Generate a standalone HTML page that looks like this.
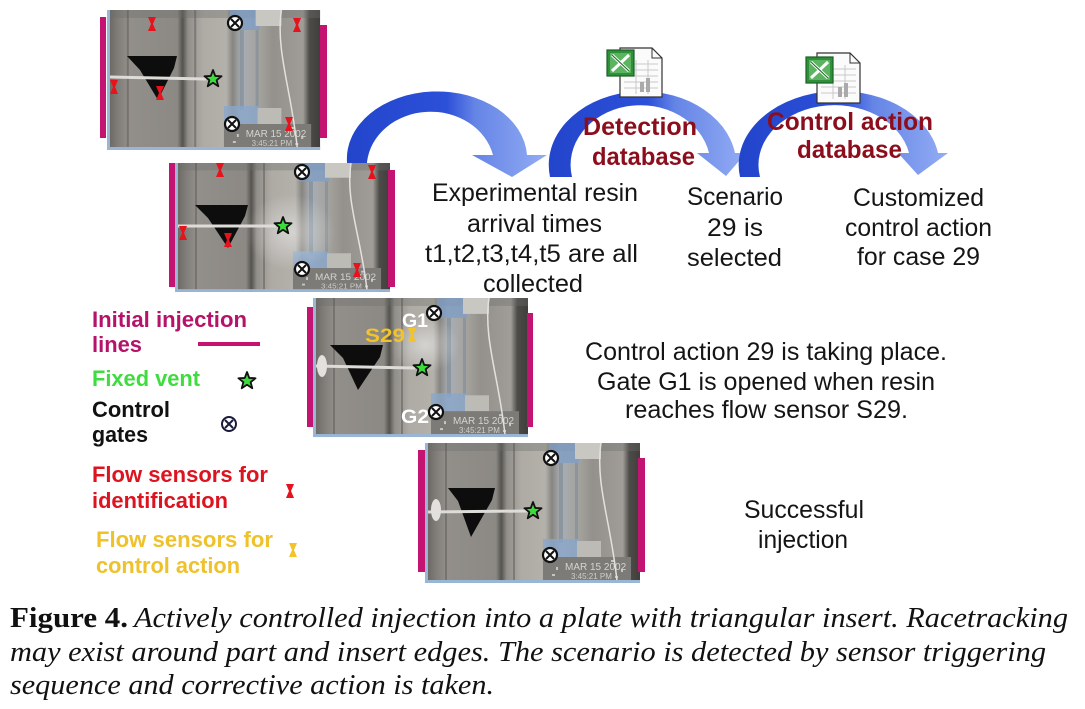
<!DOCTYPE html>
<html><head><meta charset="utf-8">
<style>
html,body{margin:0;padding:0;background:#fff;overflow:hidden;}
svg{display:block}
</style></head><body>
<svg width="1085" height="709" viewBox="0 0 1085 709" xmlns="http://www.w3.org/2000/svg" font-family="'Liberation Sans', Arial, sans-serif">
<defs>
 <linearGradient id="pg" x1="0" y1="0" x2="1" y2="0">
  <stop offset="0" stop-color="#66635f"/>
  <stop offset="0.05" stop-color="#807d78"/>
  <stop offset="0.1" stop-color="#928f8a"/>
  <stop offset="0.33" stop-color="#8c8984"/>
  <stop offset="0.355" stop-color="#55534f"/>
  <stop offset="0.38" stop-color="#918e89"/>
  <stop offset="0.45" stop-color="#aeaba5"/>
  <stop offset="0.56" stop-color="#b4b1ab"/>
  <stop offset="0.59" stop-color="#878580"/>
  <stop offset="0.63" stop-color="#a9aeb3"/>
  <stop offset="0.72" stop-color="#a3a19c"/>
  <stop offset="0.78" stop-color="#94918d"/>
  <stop offset="0.92" stop-color="#a09d98"/>
  <stop offset="0.95" stop-color="#4e4c49"/>
  <stop offset="1" stop-color="#403e3c"/>
 </linearGradient>
 <radialGradient id="glow" cx="0.5" cy="0.5" r="0.5">
  <stop offset="0" stop-color="#ffffff" stop-opacity="0.45"/>
  <stop offset="1" stop-color="#ffffff" stop-opacity="0"/>
 </radialGradient>
 <linearGradient id="a1" gradientUnits="userSpaceOnUse" x1="347" y1="0" x2="547" y2="0">
  <stop offset="0" stop-color="#2245cc"/><stop offset="0.5" stop-color="#2d50d8"/>
  <stop offset="0.64" stop-color="#6585e6"/><stop offset="1" stop-color="#93acf4"/>
 </linearGradient>
 <linearGradient id="a2" gradientUnits="userSpaceOnUse" x1="550" y1="0" x2="746" y2="0">
  <stop offset="0" stop-color="#2245cc"/><stop offset="0.5" stop-color="#2d50d8"/>
  <stop offset="0.64" stop-color="#6585e6"/><stop offset="1" stop-color="#93acf4"/>
 </linearGradient>
 <linearGradient id="a3" gradientUnits="userSpaceOnUse" x1="740" y1="0" x2="948" y2="0">
  <stop offset="0" stop-color="#2245cc"/><stop offset="0.5" stop-color="#2d50d8"/>
  <stop offset="0.64" stop-color="#6585e6"/><stop offset="1" stop-color="#93acf4"/>
 </linearGradient>
 <g id="ph">
  <rect width="215" height="140" fill="url(#pg)"/>
  <rect x="0" y="0" width="215" height="8" fill="#6e6c69" opacity=".35"/>
  <rect x="20" y="0" width="2" height="140" fill="#5a5855" opacity=".5"/>
  <rect x="88" y="0" width="2" height="140" fill="#5a5855" opacity=".5"/>
  <rect x="124" y="0" width="30" height="20" fill="#7f9ec4" opacity=".8"/>
  <rect x="150" y="0" width="26" height="16" fill="#c9c7c2"/>
  <rect x="134" y="20" width="4" height="80" fill="#6e7f90" opacity=".5"/>
  <rect x="150" y="20" width="3" height="80" fill="#6e7f90" opacity=".4"/>
  <rect x="118" y="96" width="36" height="20" fill="#89a6ca" opacity=".8"/>
  <rect x="152" y="98" width="24" height="16" fill="#bdbbb6"/>
  <rect x="118" y="114" width="88" height="24" fill="#7d7b77"/>
  <g fill="#c9c6c1">
   <rect x="122" y="118" width="3" height="2"/><rect x="131" y="124" width="2" height="3"/><rect x="127" y="131" width="3" height="2"/>
   <rect x="186" y="117" width="3" height="2"/><rect x="196" y="126" width="2" height="3"/><rect x="190" y="133" width="3" height="2"/>
  </g>
  <text x="140" y="127" font-size="10" fill="#d6d4cf">MAR 15 2002</text>
  <text x="146" y="136" font-size="8" fill="#cfcdc8">3:45:21 PM</text>
  <path d="M176,0 C170,40 186,80 192,138" stroke="#e3e1dd" stroke-width="1.5" fill="none"/>
  <rect x="0" y="0" width="3" height="140" fill="#9ab6d6"/>
  <rect x="0" y="137" width="215" height="3" fill="#9ab6d6"/>
 </g>
 <g id="gate">
  <circle r="7" fill="#fff" stroke="#111" stroke-width="2.2"/>
  <path d="M-4,-4L4,4M4,-4L-4,4" stroke="#111" stroke-width="2"/>
 </g>
 <polygon id="star" points="0,-9 2.23,-3.07 8.56,-2.78 3.61,1.17 5.29,7.28 0,3.8 -5.29,7.28 -3.61,1.17 -8.56,-2.78 -2.23,-3.07" fill="#3ddc3d" stroke="#111" stroke-width="1.8" stroke-linejoin="round"/>
 <polygon id="sens" points="-4,-7 4,-7 1,0 4,7 -4,7 -1,0" fill="#e8121c"/>
 <polygon id="ysens" points="-4,-7 4,-7 1,0 4,7 -4,7 -1,0" fill="#f2c42a"/>
</defs>

<rect width="1085" height="709" fill="#fff"/>

<!-- Arrows -->
<path d="M347,172 L347,162 A90,67 0 0 1 527,155 L547,155 L512,177 L472,155 L493,155 A64,56 0 0 0 367,162 L367,172 Z" fill="url(#a1)"/>
<path d="M550,177 A93,73 0 0 1 735,153 L746,153 L726,176 L697,153 L709,153 A69,59 0 0 0 572,177 Z" fill="url(#a2)"/>
<path d="M740,177 A99,73 0 0 1 938,153 L948,153 L918,175 L898,153 L909,153 A75,59 0 0 0 760,177 Z" fill="url(#a3)"/>

<!-- Excel icons -->
<g>
 <path d="M620,48 L652,48 L662,58 L662,97 L620,97 Z" fill="#fbfbfb" stroke="#333" stroke-width="1.2"/>
 <path d="M652,48 L652,58 L662,58" fill="none" stroke="#333" stroke-width="1"/>
 <path d="M624,64H658M624,70H658M624,76H658M624,82H658M624,88H658M636,60V94M648,60V94" stroke="#c8c8c8" stroke-width="1"/>
 <rect x="640" y="82" width="4" height="10" fill="#aaa"/><rect x="646" y="78" width="4" height="14" fill="#aaa"/>
 <rect x="607" y="50" width="27" height="26" fill="#2f8f3a" stroke="#1b6224" stroke-width="1.2"/>
 <rect x="610" y="53" width="21" height="20" fill="#5bb45f"/>
 <path d="M612,55 L629,71 M629,55 L612,71" stroke="#fff" stroke-width="3"/>
 <path d="M612,55 L629,71" stroke="#1f6d2a" stroke-width="1.2"/>
</g>
<g>
 <path d="M817,53 L850,53 L860,63 L860,103 L817,103 Z" fill="#fbfbfb" stroke="#333" stroke-width="1.2"/>
 <path d="M850,53 L850,63 L860,63" fill="none" stroke="#333" stroke-width="1"/>
 <path d="M821,69H856M821,75H856M821,81H856M821,87H856M821,93H856M833,65V99M845,65V99" stroke="#c8c8c8" stroke-width="1"/>
 <rect x="838" y="87" width="4" height="10" fill="#aaa"/><rect x="844" y="83" width="4" height="14" fill="#aaa"/>
 <rect x="806" y="57" width="27" height="26" fill="#2f8f3a" stroke="#1b6224" stroke-width="1.2"/>
 <rect x="809" y="60" width="21" height="20" fill="#5bb45f"/>
 <path d="M811,62 L828,78 M828,62 L811,78" stroke="#fff" stroke-width="3"/>
 <path d="M811,62 L828,78" stroke="#1f6d2a" stroke-width="1.2"/>
</g>

<!-- Database labels -->
<g font-weight="bold" font-size="25" fill="#8c0e1c">
 <text x="583" y="135" textLength="114" lengthAdjust="spacingAndGlyphs">Detection</text>
 <text x="592" y="165" textLength="103" lengthAdjust="spacingAndGlyphs">database</text>
 <text x="767" y="130" textLength="166" lengthAdjust="spacingAndGlyphs">Control action</text>
 <text x="797" y="158" textLength="105" lengthAdjust="spacingAndGlyphs">database</text>
</g>

<!-- Photo 1 -->
<use href="#ph" transform="translate(107,10) scale(0.991,1)"/>
<polygon points="127,56 177,56 174,68 158,100 140,70" fill="#0d0d0d"/>
<line x1="110" y1="77" x2="206" y2="79" stroke="#dedcd8" stroke-width="3"/>
<use href="#star" x="213" y="79"/>
<use href="#gate" x="235" y="23"/><use href="#gate" x="232" y="124"/>
<use href="#sens" x="152" y="24"/><use href="#sens" x="297" y="25"/><use href="#sens" x="114" y="87"/><use href="#sens" x="160" y="93"/><use href="#sens" x="289" y="124"/>
<rect x="100" y="17" width="6" height="121" fill="#c21470"/>
<rect x="320" y="25" width="7" height="113" fill="#c21470"/>

<!-- Photo 2 -->
<use href="#ph" transform="translate(175,163) scale(1,0.921)"/>
<ellipse cx="290" cy="232" rx="45" ry="38" fill="url(#glow)"/>
<polygon points="195,205 248,205 245,216 228,248 208,218" fill="#0d0d0d"/>
<line x1="178" y1="226" x2="276" y2="226" stroke="#dedcd8" stroke-width="3"/>
<use href="#star" x="283" y="226"/>
<use href="#gate" x="302" y="172"/><use href="#gate" x="302" y="269"/>
<use href="#sens" x="220" y="170"/><use href="#sens" x="372" y="172"/><use href="#sens" x="183" y="233"/><use href="#sens" x="228" y="240"/><use href="#sens" x="357" y="270"/>
<rect x="169" y="163" width="6" height="124" fill="#c21470"/>
<rect x="388" y="170" width="7" height="117" fill="#c21470"/>

<!-- Photo 3 -->
<use href="#ph" transform="translate(313,298) scale(1,0.993)"/>
<ellipse cx="425" cy="345" rx="35" ry="28" fill="url(#glow)"/>
<polygon points="330,345 383,345 380,357 358,390 343,358" fill="#0d0d0d"/>
<line x1="316" y1="366" x2="415" y2="368" stroke="#dedcd8" stroke-width="3"/>
<ellipse cx="322" cy="366" rx="5" ry="11" fill="#e3e1de"/>
<use href="#star" x="422" y="368"/>
<use href="#gate" x="434" y="313"/><use href="#gate" x="436" y="412"/>
<use href="#ysens" x="412" y="335"/>
<g font-weight="bold" font-size="19">
 <text x="402" y="327" fill="#fff" textLength="26" lengthAdjust="spacingAndGlyphs">G1</text>
 <text x="365" y="342" fill="#f2c42a" textLength="40" lengthAdjust="spacingAndGlyphs">S29</text>
 <text x="401" y="423" fill="#fff" textLength="28" lengthAdjust="spacingAndGlyphs">G2</text>
</g>
<rect x="307" y="307" width="6" height="120" fill="#c21470"/>
<rect x="527" y="313" width="6" height="114" fill="#c21470"/>

<!-- Photo 4 -->
<use href="#ph" transform="translate(425,443)"/>
<polygon points="448,488 495,488 492,500 471,537 458,501" fill="#0d0d0d"/>
<line x1="428" y1="512" x2="527" y2="511" stroke="#dedcd8" stroke-width="3"/>
<ellipse cx="436" cy="510" rx="5" ry="11" fill="#e3e1de"/>
<use href="#star" x="533" y="511"/>
<use href="#gate" x="551" y="458"/><use href="#gate" x="550" y="555"/>
<rect x="418" y="450" width="7" height="122" fill="#c21470"/>
<rect x="638" y="458" width="7" height="114" fill="#c21470"/>

<!-- Step texts -->
<g font-size="25" fill="#151515">
 <text x="432" y="201" textLength="206" lengthAdjust="spacingAndGlyphs">Experimental resin</text>
 <text x="467" y="232" textLength="135" lengthAdjust="spacingAndGlyphs">arrival times</text>
 <text x="425" y="262" textLength="213" lengthAdjust="spacingAndGlyphs">t1,t2,t3,t4,t5 are all</text>
 <text x="483" y="292" textLength="100" lengthAdjust="spacingAndGlyphs">collected</text>

 <text x="687" y="205" textLength="96" lengthAdjust="spacingAndGlyphs">Scenario</text>
 <text x="707" y="236" textLength="56" lengthAdjust="spacingAndGlyphs">29 is</text>
 <text x="687" y="266" textLength="95" lengthAdjust="spacingAndGlyphs">selected</text>

 <text x="853" y="206" textLength="131" lengthAdjust="spacingAndGlyphs">Customized</text>
 <text x="845" y="236" textLength="147" lengthAdjust="spacingAndGlyphs">control action</text>
 <text x="857" y="265" textLength="123" lengthAdjust="spacingAndGlyphs">for case 29</text>

 <text x="585" y="360" textLength="362" lengthAdjust="spacingAndGlyphs">Control action 29 is taking place.</text>
 <text x="597" y="390" textLength="338" lengthAdjust="spacingAndGlyphs">Gate G1 is opened when resin</text>
 <text x="625" y="418" textLength="283" lengthAdjust="spacingAndGlyphs">reaches flow sensor S29.</text>

 <text x="744" y="518" textLength="120" lengthAdjust="spacingAndGlyphs">Successful</text>
 <text x="758" y="548" textLength="90" lengthAdjust="spacingAndGlyphs">injection</text>
</g>

<!-- Legend -->
<g font-weight="bold" font-size="22">
 <text x="92" y="327" fill="#b5136a" textLength="155" lengthAdjust="spacingAndGlyphs">Initial injection</text>
 <text x="92" y="352" fill="#b5136a" textLength="50" lengthAdjust="spacingAndGlyphs">lines</text>
 <text x="92" y="386" fill="#3fdc3f" textLength="108" lengthAdjust="spacingAndGlyphs">Fixed vent</text>
 <text x="92" y="417" fill="#111" textLength="78" lengthAdjust="spacingAndGlyphs">Control</text>
 <text x="92" y="442" fill="#111" textLength="56" lengthAdjust="spacingAndGlyphs">gates</text>
 <text x="92" y="482" fill="#dc1420" textLength="176" lengthAdjust="spacingAndGlyphs">Flow sensors for</text>
 <text x="92" y="508" fill="#dc1420" textLength="136" lengthAdjust="spacingAndGlyphs">identification</text>
 <text x="96" y="547" fill="#efc12a" textLength="177" lengthAdjust="spacingAndGlyphs">Flow sensors for</text>
 <text x="96" y="573" fill="#efc12a" textLength="144" lengthAdjust="spacingAndGlyphs">control action</text>
</g>
<rect x="198" y="342" width="62" height="4" fill="#c21470"/>
<use href="#star" x="247" y="381"/>
<g transform="translate(229,424)">
 <circle r="7" fill="#fff" stroke="#1a1a3a" stroke-width="2"/>
 <path d="M-4,-4L4,4M4,-4L-4,4" stroke="#1a1a3a" stroke-width="2"/>
</g>
<use href="#sens" x="290" y="491"/>
<use href="#ysens" x="293" y="550"/>

<!-- Caption -->
<g font-family="'Liberation Serif', 'Times New Roman', serif" font-size="28" fill="#111">
 <text x="10" y="627" font-weight="bold" textLength="118" lengthAdjust="spacingAndGlyphs">Figure 4.</text>
 <text x="134" y="627" font-style="italic" textLength="934" lengthAdjust="spacingAndGlyphs">Actively controlled injection into a plate with triangular insert. Racetracking</text>
 <text x="10" y="661" font-style="italic" textLength="1036" lengthAdjust="spacingAndGlyphs">may exist around part and insert edges. The scenario is detected by sensor triggering</text>
 <text x="10" y="694" font-style="italic" textLength="484" lengthAdjust="spacingAndGlyphs">sequence and corrective action is taken.</text>
</g>
</svg>
</body></html>
